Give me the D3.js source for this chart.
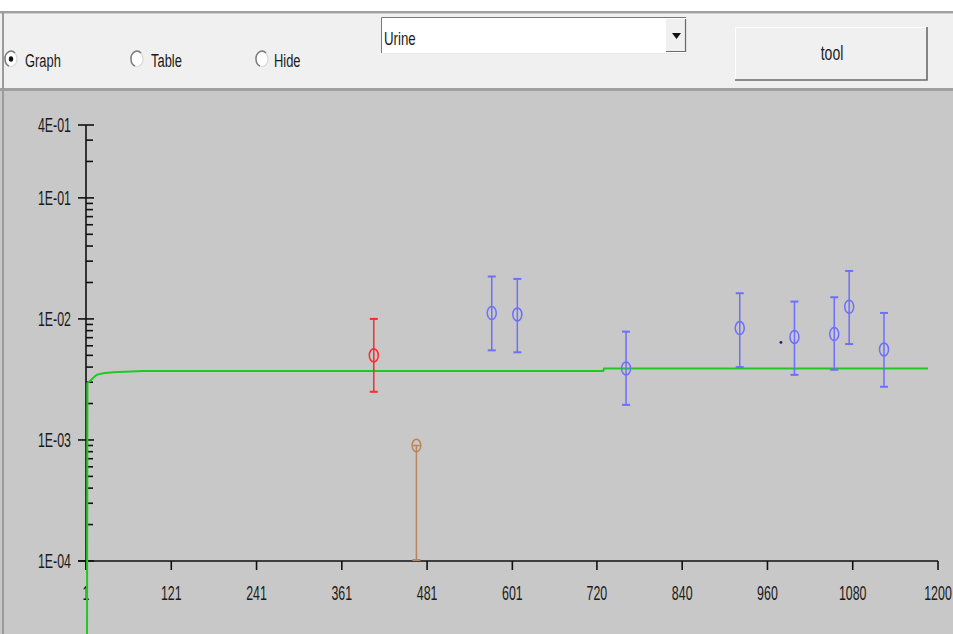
<!DOCTYPE html>
<html><head><meta charset="utf-8">
<script src="https://cdn.jsdelivr.net/npm/d3@7"></script>
<style>body{margin:0;overflow:hidden;background:#fff}</style>
</head><body><svg id="c" width="953" height="634"></svg>
<script>
// ---- data ----
const xTickValues = [1, 121, 241, 361, 481, 601, 720, 840, 960, 1080, 1200];
const xTickLabels = ["1", "121", "241", "361", "481", "601", "720", "840", "960", "1080", "1200"];
const yMajorValues = [1e-4, 1e-3, 1e-2, 1e-1, 4e-1];
const yMajorLabels = ["1E-04", "1E-03", "1E-02", "1E-01", "4E-01"];
const yMinorValues = [2e-4, 3e-4, 4e-4, 5e-4, 6e-4, 7e-4, 8e-4, 9e-4,
                      2e-3, 3e-3, 4e-3, 5e-3, 6e-3, 7e-3, 8e-3, 9e-3,
                      2e-2, 3e-2, 4e-2, 5e-2, 6e-2, 7e-2, 8e-2, 9e-2,
                      2e-1, 3e-1];
const modelDays   = [2, 3, 16, 25, 39, 81, 729, 730, 1186];
const modelValues = [1e-6, 2.94e-3, 3.45e-3, 3.56e-3, 3.63e-3, 3.72e-3, 3.72e-3, 3.90e-3, 3.90e-3];
const redDays = [406];
const redValues = [5.0e-3];
const redLow = [2.5e-3];
const redHigh = [1.0e-2];
const blueDays   = [572, 608, 761, 921, 998, 1054, 1075, 1124];
const blueValues = [1.12e-2, 1.09e-2, 3.9e-3, 8.4e-3, 7.1e-3, 7.5e-3, 1.26e-2, 5.6e-3];
const blueLow    = [5.5e-3, 5.3e-3, 1.95e-3, 4.0e-3, 3.45e-3, 3.8e-3, 6.2e-3, 2.75e-3];
const blueHigh   = [2.24e-2, 2.14e-2, 7.85e-3, 1.63e-2, 1.39e-2, 1.51e-2, 2.49e-2, 1.12e-2];
const brownDays = [466];
const brownValues = [9.0e-4];
const dotDays = [979];
const dotValues = [6.4e-3];
const radioLabels = ["Graph", "Table", "Hide"];
const comboText = "Urine";
const buttonText = "tool";

// ---- drawing ----
const svg = d3.select("#c");
const FONT = "'Liberation Sans', Arial, sans-serif";
function label(g, x, y, s, anchor, size, sx, fill) {
  return g.append("text")
    .attr("transform", `translate(${x},${y}) scale(${sx},1)`)
    .attr("text-anchor", anchor).attr("font-size", size)
    .attr("font-family", FONT).attr("fill", fill || "#1a1a1a").text(s);
}

// window frame
svg.append("rect").attr("x", 0).attr("y", 0).attr("width", 953).attr("height", 634).attr("fill", "#ffffff");
svg.append("rect").attr("x", 0).attr("y", 11).attr("width", 953).attr("height", 623).attr("fill", "#f0f0f0");
svg.append("rect").attr("x", 0).attr("y", 11).attr("width", 953).attr("height", 2).attr("fill", "#a0a0a0");
svg.append("rect").attr("x", 0).attr("y", 13).attr("width", 953).attr("height", 1).attr("fill", "#d0d0d0");
svg.append("rect").attr("x", 0).attr("y", 88).attr("width", 953).attr("height", 3).attr("fill", "#a0a0a0");
svg.append("rect").attr("x", 0).attr("y", 91).attr("width", 953).attr("height", 543).attr("fill", "#c8c8c8");
svg.append("rect").attr("x", 2).attr("y", 11).attr("width", 2).attr("height", 623).attr("fill", "#9a9a9a");

// radio buttons
const radioX = [11, 137, 262];
const radioTextX = [25, 151, 274];
radioLabels.forEach((t, i) => {
  svg.append("ellipse").attr("cx", radioX[i]).attr("cy", 59).attr("rx", 6).attr("ry", 7.5)
    .attr("fill", "#ffffff").attr("stroke", "#d8d8d8").attr("stroke-width", 1.2);
  svg.append("path")
    .attr("d", `M${radioX[i] + 4},${59 - 6} A6,7.5 0 0 0 ${radioX[i] - 6},59 A6,7.5 0 0 0 ${radioX[i] - 2},${59 + 7}`)
    .attr("fill", "none").attr("stroke", "#7a7a7a").attr("stroke-width", 1.4);
  if (i === 0) svg.append("ellipse").attr("cx", radioX[i]).attr("cy", 59).attr("rx", 2.2).attr("ry", 2.8).attr("fill", "#111");
  label(svg, radioTextX[i], 67, t, "start", 19, 0.68);
});

// combo box
svg.append("rect").attr("x", 381).attr("y", 17).attr("width", 305).attr("height", 36).attr("fill", "#ffffff");
svg.append("path").attr("d", "M381.5,53 V17.5 H686").attr("fill", "none").attr("stroke", "#7a7a7a").attr("stroke-width", 1);
svg.append("path").attr("d", "M382,53.5 H686.5 V17").attr("fill", "none").attr("stroke", "#e8e8e8").attr("stroke-width", 1);
svg.append("rect").attr("x", 666).attr("y", 19).attr("width", 19).attr("height", 32).attr("fill", "#f0f0f0");
svg.append("path").attr("d", "M666,51.5 H685.5 V19").attr("fill", "none").attr("stroke", "#6a6a6a").attr("stroke-width", 1.2);
svg.append("path").attr("d", "M672,33 H681 L676.5,39 Z").attr("fill", "#111");
label(svg, 384, 45, comboText, "start", 19, 0.7);

// button
svg.append("rect").attr("x", 735).attr("y", 27).attr("width", 192).attr("height", 53).attr("fill", "#f0f0f0");
svg.append("path").attr("d", "M735.5,80 V27.5 H927").attr("fill", "none").attr("stroke", "#ffffff").attr("stroke-width", 1);
svg.append("path").attr("d", "M735,80 H927 V27").attr("fill", "none").attr("stroke", "#6a6a6a").attr("stroke-width", 1.6);
label(svg, 832, 60, buttonText, "middle", 20, 0.7);

// scales
const x = d3.scaleLinear().domain([1, 1200]).range([86, 938]);
const y = d3.scaleLog().domain([1e-4, 0.4]).range([561, 125]);

const plot = svg.append("g");
plot.append("clipPath").attr("id", "clipP").append("rect")
  .attr("x", 4).attr("y", 91).attr("width", 949).attr("height", 543);

// axes
const ax = plot.append("g").attr("stroke", "#111").attr("stroke-width", 1.6);
ax.append("line").attr("x1", x(1)).attr("x2", x(1)).attr("y1", y(0.4)).attr("y2", y(1e-4) + 9);
ax.append("line").attr("x1", x(1) - 8).attr("x2", x(1200)).attr("y1", y(1e-4)).attr("y2", y(1e-4));
ax.selectAll(".maj").data(yMajorValues).enter().append("line")
  .attr("x1", x(1) - 8).attr("x2", x(1) + 8).attr("y1", d => y(d)).attr("y2", d => y(d));
ax.selectAll(".min").data(yMinorValues).enter().append("line")
  .attr("x1", x(1)).attr("x2", x(1) + 7).attr("y1", d => y(d)).attr("y2", d => y(d));
ax.selectAll(".xt").data(xTickValues).enter().append("line")
  .attr("x1", d => x(d)).attr("x2", d => x(d)).attr("y1", y(1e-4)).attr("y2", y(1e-4) + 9);

yMajorLabels.forEach((t, i) => label(plot, 71, y(yMajorValues[i]) + 7, t, "end", 20, 0.62));
xTickLabels.forEach((t, i) => label(plot, x(xTickValues[i]), 600, t, "middle", 20, 0.62));

// model line
const cl = plot.append("g").attr("clip-path", "url(#clipP)");
cl.append("path")
  .datum(modelDays.map((d, i) => [d, modelValues[i]]))
  .attr("d", d3.line().x(d => x(d[0])).y(d => y(d[1])))
  .attr("fill", "none").attr("stroke", "#22c822").attr("stroke-width", 2);

// error-bar series
function errSeries(days, vals, lo, hi, color) {
  const g = cl.append("g").attr("stroke", color).attr("stroke-width", 1.5).attr("fill", "none");
  days.forEach((d, i) => {
    const cx = x(d);
    g.append("line").attr("x1", cx).attr("x2", cx).attr("y1", y(hi[i])).attr("y2", y(lo[i]));
    g.append("line").attr("x1", cx - 4).attr("x2", cx + 4).attr("y1", y(hi[i])).attr("y2", y(hi[i])).attr("stroke-width", 2);
    g.append("line").attr("x1", cx - 4).attr("x2", cx + 4).attr("y1", y(lo[i])).attr("y2", y(lo[i])).attr("stroke-width", 2);
    g.append("ellipse").attr("cx", cx).attr("cy", y(vals[i])).attr("rx", 4.5).attr("ry", 6.5);
  });
}
errSeries(redDays, redValues, redLow, redHigh, "#ff2a2a");
errSeries(blueDays, blueValues, blueLow, blueHigh, "#6e6eff");

// brown stem point
const bg = cl.append("g").attr("stroke", "#b8865a").attr("stroke-width", 1.5).attr("fill", "none");
brownDays.forEach((d, i) => {
  const cx = x(d), cy = y(brownValues[i]);
  bg.append("line").attr("x1", cx).attr("x2", cx).attr("y1", cy).attr("y2", y(1e-4));
  bg.append("line").attr("x1", cx - 4).attr("x2", cx + 4).attr("y1", y(1e-4) - 1).attr("y2", y(1e-4) - 1).attr("stroke-width", 2);
  bg.append("line").attr("x1", cx - 3.5).attr("x2", cx + 3.5).attr("y1", cy).attr("y2", cy);
  bg.append("ellipse").attr("cx", cx).attr("cy", cy).attr("rx", 4.3).attr("ry", 6.3);
});

// lone dot
cl.selectAll(".dot").data(dotDays).enter().append("circle")
  .attr("cx", d => x(d)).attr("cy", (d, i) => y(dotValues[i])).attr("r", 1.4).attr("fill", "#1a1a80");
</script>
</body></html>
